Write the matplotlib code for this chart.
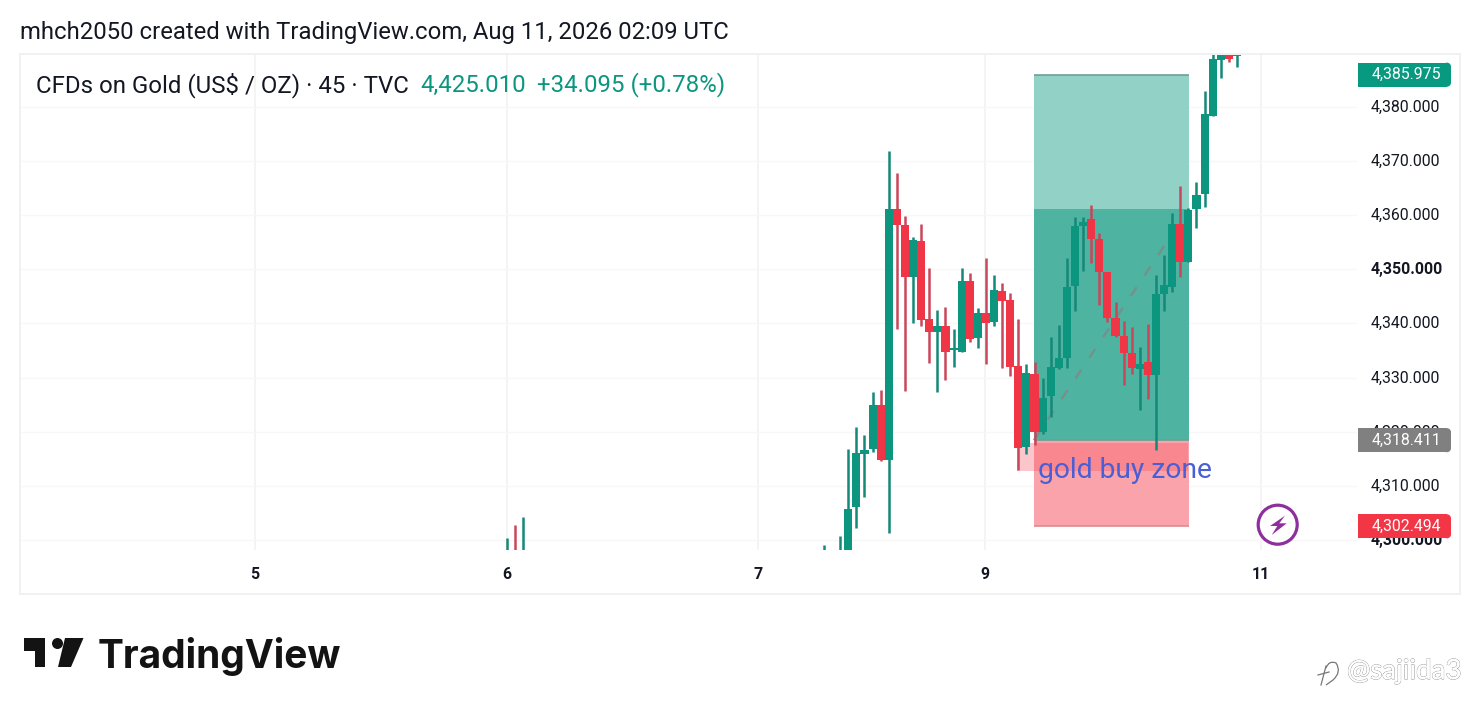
import matplotlib
matplotlib.use("Agg")
import matplotlib.pyplot as plt
from matplotlib.patches import Rectangle, Circle, Polygon
from matplotlib.path import Path
from matplotlib.patches import PathPatch
from matplotlib.transforms import ScaledTranslation
import matplotlib.patheffects as pe

# ---------- data ----------
candle_x = [-39.1, -38.15, -37.2, 0, 2, 3, 4, 5, 6, 7, 8, 9, 10, 11, 12, 13, 14, 15, 16, 17, 18, 19, 20, 21, 22, 23, 24, 25,
            26, 27, 28, 29, 30, 31, 32, 33, 34, 35, 36, 37, 38, 39, 40, 41, 42, 43, 44, 45, 46, 47, 48, 49, 50, 51]
opens = [4296.0, 4297.0, 4296.0, 4296.0, 4296.0, 4296.0, 4306.1, 4315.9, 4316.8, 4324.9, 4314.8, 4361.1, 4358.2, 4348.6, 4355.2, 4340.8,
         4338.4, 4339.5, 4335.1, 4334.7, 4347.8, 4337.3, 4341.9, 4340.3, 4346.0, 4344.3, 4332.1, 4317.2,
         4330.6, 4319.9, 4326.6, 4331.8, 4333.6, 4346.9, 4358.0, 4359.3, 4355.6, 4349.5, 4341.0, 4337.7, 4334.5, 4331.6,
         4332.9, 4330.5, 4345.4, 4346.7, 4358.4, 4351.4, 4361.1, 4363.9, 4378.3, 4388.7, 4390.0, 4389.4]
highs = [4300.3, 4302.7, 4304.2, 4299.0, 4300.7, 4316.8, 4320.9, 4319.4, 4327.3, 4327.7, 4371.9, 4367.8, 4359.9, 4356.0, 4358.4, 4350.2,
         4342.5, 4343.0, 4339.0, 4350.2, 4349.3, 4342.8, 4352.1, 4349.0, 4347.5, 4345.6, 4340.8, 4332.5,
         4332.9, 4329.9, 4337.5, 4339.7, 4352.1, 4359.7, 4359.7, 4361.9, 4356.7, 4349.5, 4344.0, 4340.4, 4339.3, 4335.6,
         4339.9, 4349.0, 4352.6, 4360.4, 4365.4, 4361.3, 4366.1, 4383.0, 4391.0, 4392.0, 4390.5, 4391.0]
lows = [4295.0, 4295.0, 4295.0, 4294.0, 4295.0, 4295.0, 4302.2, 4307.9, 4316.2, 4314.6, 4301.3, 4339.0, 4327.5, 4340.1, 4339.5, 4332.7,
        4327.3, 4329.5, 4332.0, 4334.7, 4336.6, 4335.4, 4332.5, 4339.5, 4331.8, 4330.3, 4312.9, 4315.9,
        4317.5, 4319.6, 4322.7, 4331.6, 4331.8, 4342.3, 4349.7, 4351.2, 4343.4, 4340.3, 4337.5, 4328.6, 4330.7, 4324.0,
        4326.0, 4316.6, 4342.3, 4345.8, 4348.6, 4351.4, 4357.6, 4361.5, 4378.3, 4385.4, 4388.3, 4387.4]
closes = [4297.0, 4296.0, 4297.0, 4297.0, 4297.0, 4305.7, 4316.0, 4316.6, 4324.9, 4314.8, 4361.1, 4358.2, 4348.6, 4355.4, 4340.6, 4338.4,
          4339.5, 4334.7, 4335.4, 4347.8, 4337.1, 4341.9, 4340.1, 4346.2, 4344.1, 4332.0, 4317.0, 4330.8,
          4319.9, 4326.2, 4332.0, 4333.6, 4346.7, 4358.0, 4358.8, 4355.6, 4349.5, 4341.0, 4337.7, 4334.5, 4331.8, 4332.5,
          4330.5, 4345.4, 4347.1, 4358.4, 4351.4, 4361.0, 4363.7, 4378.7, 4388.9, 4392.0, 4388.9, 4390.0]

price_ticks = [4300, 4310, 4320, 4330, 4340, 4350, 4360, 4370, 4380]
bold_prices = [4300, 4350]
time_positions = [-70.25, -39.2, -8.2, 19.85, 53.98]
time_labels = ["5", "6", "7", "9", "11"]

target_price = 4385.975
mid_price = 4361.1
entry_price = 4318.411
stop_price = 4302.494
box_start, box_end = 25.93, 45.07
patch_start, patch_end, patch_top, patch_bottom = 23.83, 44.95, 4317.9, 4312.8
badges = [(target_price, "4,385.975", "#089981"),
          (entry_price, "4,318.411", "#808080"),
          (stop_price, "4,302.494", "#F23645")]

title = "mhch2050 created with TradingView.com, Aug 11, 2026 02:09 UTC"
legend_name = "CFDs on Gold (US$ / OZ) · 45 · TVC"
legend_price = "4,425.010"
legend_change = "+34.095 (+0.78%)"
annotation = "gold buy zone"
logo_word = "TradingView"
watermark = "@sajiida3"

# ---------- style ----------
UP, DOWN = "#0C9680", "#F03646"
WICK_UP, WICK_DOWN = "#14897A", "#C9475A"
FONT = "Roboto"
W, H = 1480, 714
plt.rcParams["font.family"] = [FONT, "DejaVu Sans"]

fig = plt.figure(figsize=(W / 100, H / 100), dpi=100, facecolor="white")
ax = fig.add_axes([20 / W, 1 - 550 / H, 1337 / W, 495 / H], facecolor="white")
ax.set_xlim(-99.28, 65.82)
ax.set_ylim(4298.12, 4389.61)
for s in ax.spines.values():
    s.set_visible(False)

ax.yaxis.tick_right()
ax.set_yticks(price_ticks)
ax.set_yticklabels([f"{p:,.3f}" for p in price_ticks])
ax.set_xticks(time_positions)
ax.set_xticklabels(time_labels, fontsize=11.4, fontweight="bold", color="#131722")
ax.tick_params(axis="y", length=0, pad=10)
ax.tick_params(axis="x", length=0, pad=12)
lift = ScaledTranslation(0, 0.8 / 72, fig.dpi_scale_trans)
for p, lab in zip(price_ticks, ax.get_yticklabels()):
    lab.set_fontsize(11.4)
    lab.set_color("#131722")
    lab.set_fontweight("bold" if p in bold_prices else "normal")
    lab.set_transform(lab.get_transform() + lift)
ax.grid(axis="y", color="#F7F7F7", lw=1.0)
ax.grid(axis="x", color="#F1F1F1", lw=1.1)
ax.set_axisbelow(True)

# position tool
ax.add_patch(Rectangle((box_start, mid_price), box_end - box_start, target_price - mid_price,
                       fc="#92D2C6", ec="none", zorder=1))
ax.add_patch(Rectangle((box_start, entry_price), box_end - box_start, mid_price - entry_price,
                       fc="#4FB3A1", ec="none", zorder=1))
ax.add_patch(Rectangle((box_start, stop_price), box_end - box_start, entry_price - stop_price,
                       fc="#FBA3AA", ec="none", zorder=1))
ax.add_patch(Rectangle((patch_start, patch_bottom), patch_end - patch_start, patch_top - patch_bottom,
                       fc="#F24A5A", alpha=0.315, ec="none", zorder=1.2))
ax.hlines([target_price, entry_price], box_start, box_end, color="#6F9F96", lw=1.2, zorder=1.5)
ax.hlines([stop_price], box_start, box_end, color="#DE8A90", lw=1.2, zorder=1.5)
ax.plot([box_start, box_end], [entry_price, mid_price], color="#76908C", lw=1.7,
        dashes=(4.5, 6), zorder=1.6)

# candles
for x, o, h, l, c in zip(candle_x, opens, highs, lows, closes):
    up = c >= o
    ax.vlines(x, l, h, color=WICK_UP if up else WICK_DOWN, lw=1.8, zorder=3)
    ax.bar(x, abs(c - o), bottom=min(o, c), width=1.0, color=UP if up else DOWN, lw=0, zorder=4)

ax.text(26.45, 4312.85, annotation, color="#4A5FD6", fontsize=20.3, va="center", ha="left", zorder=6)

# ---------- overlay (furniture, in pixels) ----------
ov = fig.add_axes([0, 0, 1, 1], facecolor="none", zorder=5)
ov.set_xlim(0, W)
ov.set_ylim(H, 0)
ov.axis("off")
ov.add_patch(Rectangle((20, 54), 1440, 540, fc="none", ec="#F0F1F3", lw=1.4))

fig.canvas.draw()
def price_to_px(p):
    return ov.transData.inverted().transform(ax.transData.transform((0, p)))[1]

for p, lab, col in badges:
    y = price_to_px(p)
    ov.add_patch(Rectangle((1358, y - 12), 89, 24, fc=col, ec="none"))
    ov.add_patch(Rectangle((1358, y - 8), 93, 16, fc=col, ec="none"))
    ov.add_patch(Circle((1447, y - 8), 4, fc=col, ec="none"))
    ov.add_patch(Circle((1447, y + 8), 4, fc=col, ec="none"))
    ov.text(1406.5, y - 0.2, lab, color="white", fontsize=11.4, ha="center", va="center")

ov.text(20, 33, title, fontsize=17.18, color="#131722", va="center", ha="left")
ov.text(36, 85, legend_name, fontsize=17.25, color="#131722", va="center", ha="left")
ov.text(420, 85, legend_price, fontsize=17.3, color="#0C9680", va="center", ha="left")
ov.text(537, 85, legend_change, fontsize=17.3, color="#0C9680", va="center", ha="left")

# lightning icon
ov.add_patch(Circle((1277.7, 524.7), 19.5, fc="white", ec="#8E2F9E", lw=2.3))
ov.add_patch(Polygon([(1285, 515.7), (1270, 526), (1277.3, 526), (1271.7, 535), (1286.7, 523.3), (1279.3, 523.3)],
                     closed=True, fc="#8E2F9E", ec="none"))

# logo
LOGO = "#131313"
ov.add_patch(Polygon([(24, 638), (45, 638), (45, 667), (35, 667), (35, 651), (24, 651)], closed=True, fc=LOGO, ec="none"))
ov.add_patch(Circle((57.5, 643.5), 5.5, fc=LOGO, ec="none"))
ov.add_patch(Polygon([(65, 638), (83.5, 638), (71, 667), (58, 667)], closed=True, fc=LOGO, ec="none"))
ov.text(97.5, 657, logo_word, fontsize=28, fontweight="bold", family="Inter", color=LOGO, va="center", ha="left")

# watermark
ov.text(1347, 671, watermark, fontsize=20, color="white", va="center", ha="left", family="Lato",
        path_effects=[pe.withStroke(linewidth=0.7, foreground="#8A8A8A"), pe.Normal()])
ov.add_patch(PathPatch(Path([(1326, 668), (1329, 660), (1336, 663), (1342, 672), (1333, 680), (1326, 685)],
                            [Path.MOVETO, Path.CURVE3, Path.CURVE3, Path.CURVE3, Path.CURVE3, Path.LINETO]),
                       fc="none", ec="#777777", lw=0.9))
ov.plot([1318, 1329], [675, 672], color="#777777", lw=0.9)
ov.plot([1326, 1321], [666, 685], color="#777777", lw=0.9)

fig.savefig("out.png", dpi=100, facecolor="white")
